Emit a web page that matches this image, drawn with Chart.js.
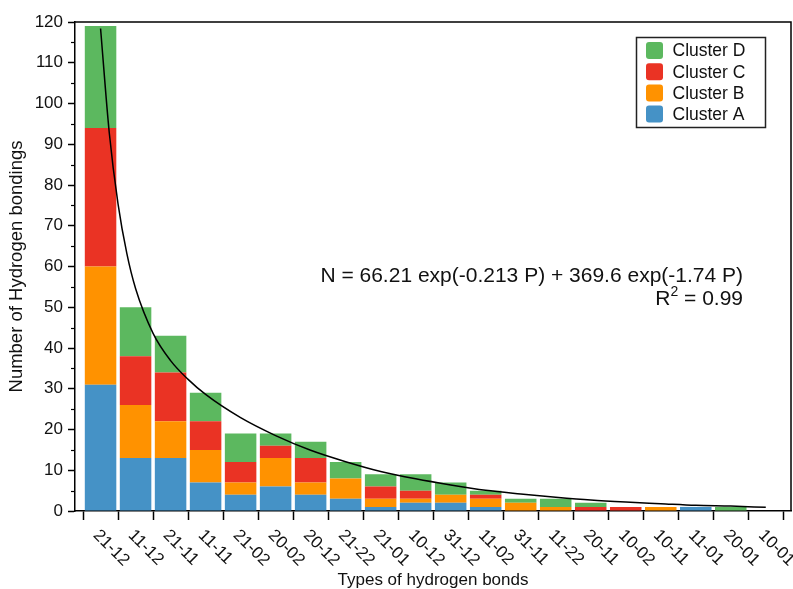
<!DOCTYPE html>
<html lang="en">
<head>
<meta charset="utf-8">
<title>Types of hydrogen bonds</title>
<script src="https://cdn.jsdelivr.net/npm/chart.js@4.4.1/dist/chart.umd.min.js"></script>
<style>
  html, body { margin: 0; padding: 0; background: #fff; }
  #wrap { width: 793px; height: 589px; }
</style>
</head>
<body>
<div id="wrap"><canvas id="chart" width="793" height="589"></canvas></div>
<script>
// Hydrogen bond types, in the order of the x axis
const categories = ['21-12', '11-12', '21-11', '11-11', '21-02', '20-02', '20-12', '21-22', '21-01', '10-12',
  '31-12', '11-02', '31-11', '11-22', '20-11', '10-02', '10-11', '11-01', '20-01', '10-01'];

// Counts per cluster (stacked, bottom to top: A, B, C, D)
const clusterA = [31, 13, 13, 7, 4, 6, 4, 3, 1, 2, 2, 1, 0, 0, 0, 0, 0, 1, 0, 0];
const clusterB = [29, 13, 9, 8, 3, 7, 3, 5, 2, 1, 2, 2, 2, 1, 0, 0, 1, 0, 0, 0];
const clusterC = [34, 12, 12, 7, 5, 3, 6, 0, 3, 2, 0, 1, 0, 0, 1, 1, 0, 0, 0, 0];
const clusterD = [25, 12, 9, 7, 7, 3, 4, 4, 3, 4, 3, 1, 1, 2, 1, 0, 0, 0, 1, 0];

// Fitted curve (P = rank of the bond type)
const curveP = [1, 1.25, 1.5, 1.75, 2, 2.5, 3, 3.5, 4, 5, 6, 7, 8, 9, 10, 11, 12, 13, 14, 15, 16, 17, 18, 19, 20];
const curveN = [118.4, 92.7, 75.3, 63.2, 54.6, 43.6, 36.9, 32.3, 28.6, 22.9, 18.5, 14.9, 12.1, 9.7, 7.9,
  6.4, 5.1, 4.2, 3.4, 2.7, 2.2, 1.8, 1.4, 1.2, 0.9];

const yTicksMinor = [5, 15, 25, 35, 45, 55, 65, 75, 85, 95, 105, 115];

const fitText = 'N = 66.21 exp(-0.213 P) + 369.6 exp(-1.74 P)';
const r2Text = ' = 0.99';

const FONT = "'Liberation Sans', Arial, Helvetica, sans-serif";
const colors = { A: '#4592c6', B: '#ff9200', C: '#ea3324', D: '#5cb85f' };

function toPoints(values) {
  return values.map((v, i) => ({ x: i + 1, y: v }));
}

// Frame, minor ticks, rotated category labels, legend and fit annotation
const extras = {
  id: 'extras',
  afterDraw(chart) {
    const ctx = chart.ctx;
    const { left, right, top, bottom } = chart.chartArea;
    const xs = chart.scales.x;
    const ys = chart.scales.y;
    ctx.save();

    // top and right frame
    ctx.strokeStyle = '#000';
    ctx.lineWidth = 1.5;
    ctx.beginPath();
    ctx.moveTo(left, top);
    ctx.lineTo(right, top);
    ctx.lineTo(right, bottom);
    ctx.stroke();

    // minor y ticks
    ctx.lineWidth = 1.2;
    yTicksMinor.forEach(v => {
      const py = Math.round(ys.getPixelForValue(v)) + 0.5;
      ctx.beginPath();
      ctx.moveTo(left - 4, py);
      ctx.lineTo(left, py);
      ctx.stroke();
    });

    // category labels, rotated 45 degrees clockwise
    ctx.fillStyle = '#111';
    ctx.font = '17px ' + FONT;
    ctx.textAlign = 'left';
    ctx.textBaseline = 'alphabetic';
    categories.forEach((c, i) => {
      const cx = xs.getPixelForValue(i + 1);
      ctx.save();
      ctx.translate(cx - 8, bottom + 25);
      ctx.rotate(Math.PI / 4);
      ctx.fillText(c, 0, 0);
      ctx.restore();
    });

    // legend box
    const lx = 636.5, ly = 37.5, lw = 129, lh = 90;
    ctx.strokeStyle = '#222';
    ctx.lineWidth = 1.5;
    ctx.strokeRect(lx, ly, lw, lh);
    const items = chart.data.datasets.filter(d => d.type !== 'line').slice().reverse();
    ctx.font = '17.5px ' + FONT;
    ctx.textBaseline = 'middle';
    items.forEach((d, i) => {
      const cy = 50.5 + i * 21.2;
      ctx.fillStyle = d.backgroundColor;
      ctx.beginPath();
      ctx.roundRect(646, cy - 8.5, 17, 17, 3);
      ctx.fill();
      ctx.fillStyle = '#111';
      ctx.fillText(d.label, 672.5, cy + 1);
    });

    // fit annotation, right aligned
    const ax = 743;
    ctx.fillStyle = '#111';
    ctx.textBaseline = 'alphabetic';
    ctx.textAlign = 'right';
    ctx.font = '21px ' + FONT;
    ctx.fillText(fitText, ax, 282);
    const wRest = ctx.measureText(r2Text).width;
    ctx.fillText(r2Text, ax, 305);
    ctx.font = '14px ' + FONT;
    const wSup = ctx.measureText('2').width;
    ctx.fillText('2', ax - wRest, 296);
    ctx.font = '21px ' + FONT;
    ctx.fillText('R', ax - wRest - wSup, 305);

    ctx.restore();
  }
};

function init() {
  const ctx = document.getElementById('chart').getContext('2d');
  new Chart(ctx, {
    data: {
      datasets: [
        {
          type: 'line',
          label: 'Fit',
          data: curveP.map((p, i) => ({ x: p, y: curveN[i] })),
          borderColor: '#000',
          borderWidth: 1.5,
          pointRadius: 0,
          cubicInterpolationMode: 'monotone',
          order: 0
        },
        { type: 'bar', label: 'Cluster A', data: toPoints(clusterA), backgroundColor: colors.A, order: 1 },
        { type: 'bar', label: 'Cluster B', data: toPoints(clusterB), backgroundColor: colors.B, order: 1 },
        { type: 'bar', label: 'Cluster C', data: toPoints(clusterC), backgroundColor: colors.C, order: 1 },
        { type: 'bar', label: 'Cluster D', data: toPoints(clusterD), backgroundColor: colors.D, order: 1 }
      ]
    },
    options: {
      responsive: false,
      animation: false,
      layout: { padding: { top: 22, right: 2, bottom: 0, left: 0 } },
      datasets: { bar: { categoryPercentage: 1, barPercentage: 0.9, borderWidth: 0 } },
      plugins: { legend: { display: false }, tooltip: { enabled: false } },
      scales: {
        x: {
          type: 'linear',
          stacked: true,
          offset: false,
          min: 0.27,
          max: 20.72,
          afterBuildTicks: s => {
            s.ticks = categories.map((c, i) => ({ value: i + 0.5 })).concat([{ value: categories.length + 0.5 }]);
          },
          afterFit: s => { s.height = 78; },
          ticks: { display: false },
          grid: { offset: false, drawOnChartArea: false, drawTicks: true, tickLength: 9, tickColor: '#000', tickWidth: 1.5 },
          border: { display: true, color: '#000', width: 1.5 },
          title: {
            display: true,
            text: 'Types of hydrogen bonds',
            color: '#111',
            font: { family: FONT, size: 17 },
            padding: { top: 0, bottom: -2 }
          }
        },
        y: {
          stacked: true,
          min: 0,
          max: 120,
          afterFit: s => { s.width = 75; },
          ticks: { stepSize: 10, color: '#111', font: { family: FONT, size: 17 }, padding: 5 },
          grid: { drawOnChartArea: false, drawTicks: true, tickLength: 7, tickColor: '#000', tickWidth: 1.5 },
          border: { display: true, color: '#000', width: 1.5 },
          title: {
            display: true,
            text: 'Number of Hydrogen bondings',
            color: '#111',
            font: { family: FONT, size: 18.5 },
            padding: { top: 6, bottom: 0 }
          }
        }
      }
    },
    plugins: [extras]
  });
}

document.addEventListener('DOMContentLoaded', init);
</script>
</body>
</html>
